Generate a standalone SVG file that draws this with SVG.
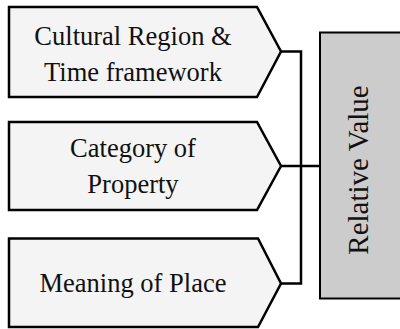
<svg xmlns="http://www.w3.org/2000/svg" width="400" height="329" viewBox="0 0 400 329">
<style>
.box{fill:#f4f4f4;stroke:#000;stroke-width:2.5;stroke-linejoin:miter}
.lbl{font-family:"Liberation Serif","Times New Roman",serif;font-size:26.5px;fill:#111;text-anchor:middle}
.conn{fill:none;stroke:#000;stroke-width:2.5}
.target{fill:#cccccc;stroke:#000;stroke-width:2}
.tlbl{font-family:"Liberation Serif","Times New Roman",serif;font-size:29px;fill:#111;text-anchor:middle}
</style>
<rect width="400" height="329" fill="#fff"/>
<g id="connectors">
<path class="conn" d="M281 51.5 H301 V283.5 H281"/>
<path class="conn" d="M281 166 H320"/>
</g>
<g id="node-cultural">
<path class="box" d="M9 7 H257 L281 51.5 L257 97 H9 Z"/>
<text class="lbl" x="133" y="45">Cultural Region &amp;</text>
<text class="lbl" x="133" y="81">Time framework</text>
</g>
<g id="node-category">
<path class="box" d="M9 122 H257 L281 166 L257 210 H9 Z"/>
<text class="lbl" x="133" y="157">Category of</text>
<text class="lbl" x="133" y="193">Property</text>
</g>
<g id="node-meaning">
<path class="box" d="M9 238.5 H258 L281 283.5 L258 327 H9 Z"/>
<text class="lbl" x="133" y="292">Meaning of Place</text>
</g>
<g id="node-relative">
<rect class="target" x="320" y="32.5" width="100" height="266"/>
<text class="tlbl" transform="translate(368 170) rotate(-90)" x="0" y="0">Relative Value</text>
</g>
</svg>
